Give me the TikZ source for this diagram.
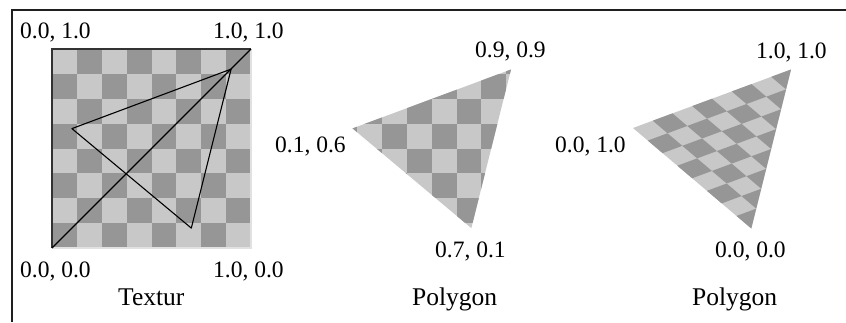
\documentclass[tikz,border=0pt]{standalone}
\usepackage{fontspec}
\setmainfont{Liberation Serif}
\definecolor{lightc}{RGB}{200,200,200}
\definecolor{darkc}{RGB}{150,150,150}
\definecolor{edgedark}{RGB}{50,50,50}
\definecolor{edgelight}{RGB}{225,225,225}
\newcommand\drawchecker{%
  \fill[lightc] (0,0) -- (8,0) -- (8,8) -- (0,8) -- cycle;
  \foreach \i in {0,...,7}{%
    \foreach \j in {0,...,7}{%
      \pgfmathtruncatemacro\kk{mod(\i+\j,2)}%
      \ifnum\kk=0
        \fill[darkc] (\i,\j) -- ++(1,0) -- ++(0,1) -- ++(-1,0) -- cycle;
      \fi
    }%
  }%
}
\tikzset{
  numlabel/.style={anchor=base west, inner sep=0pt, font=\fontsize{23.5}{28}\selectfont},
  wordlabel/.style={anchor=base west, inner sep=0pt, font=\fontsize{25.5}{30}\selectfont},
  texline/.style={black, line width=1.1pt, line join=round},
  framestyle/.style={black!88, line width=2pt}
}
\begin{document}
\begin{tikzpicture}[x=1pt, y=-1pt]
\useasboundingbox (0,0) rectangle (846,322);
\fill[white] (0,0) rectangle (846,322);

% frame (top and left)
\coordinate (fBL) at (12,322);
\coordinate (fTL) at (12,10);
\coordinate (fTR) at (846,10);
\draw[framestyle] (fBL) -- (fTL) -- (fTR);

% ---------- texture square ----------
\begin{scope}[shift={(52,248)}, x={(24.875pt,0pt)}, y={(0pt,24.875pt)}]
  \drawchecker
\end{scope}
\coordinate (sq00) at (52,248);
\coordinate (sq10) at (251,248);
\coordinate (sq11) at (251,49);
\coordinate (sq01) at (52,49);
\draw[edgelight, line width=1.5pt] (sq00) -- (sq10) -- (sq11);
\draw[edgedark, line width=2pt] (sq00) -- (sq01) -- (sq11);

\coordinate (tA) at (71.9,128.6);
\coordinate (tB) at (231.1,69.1);
\coordinate (tC) at (191.3,228.1);
\draw[texline] (tA) -- (tB) -- (tC) -- cycle;
\draw[texline] (sq00) -- (sq11);

\node[numlabel] (l01) at (20,38) {0.0, 1.0};
\node[numlabel] (l11) at (213,38) {1.0, 1.0};
\node[numlabel] (l00) at (20,277) {0.0, 0.0};
\node[numlabel] (l10) at (213,277) {1.0, 0.0};
\node[wordlabel] (textur) at (118,305) {Textur};

% ---------- middle polygon ----------
\coordinate (mA) at (352.5,128.4);
\coordinate (mB) at (511,69.5);
\coordinate (mC) at (471.3,228.1);
\begin{scope}
  \clip (mA) -- (mB) -- (mC) -- cycle;
  \begin{scope}[shift={(332.2,248.1)}, x={(24.875pt,0pt)}, y={(0pt,24.875pt)}]
    \drawchecker
  \end{scope}
\end{scope}
\node[numlabel] (m99) at (475,57) {0.9, 0.9};
\node[numlabel] (m16) at (275,152) {0.1, 0.6};
\node[numlabel] (m71) at (435,257) {0.7, 0.1};
\node[wordlabel] (poly1) at (412,305) {Polygon};

% ---------- right polygon ----------
\coordinate (rA) at (633,128);
\coordinate (rB) at (791,69.5);
\coordinate (rC) at (751.3,228.5);
\begin{scope}
  \clip (rA) -- (rB) -- (rC) -- cycle;
  \begin{scope}[shift={(751.3,228.5)}, x={(19.75pt,7.3125pt)}, y={(-14.7875pt,12.5625pt)}]
    \drawchecker
  \end{scope}
\end{scope}
\node[numlabel] (r11) at (756,58) {1.0, 1.0};
\node[numlabel] (r01) at (555,152) {0.0, 1.0};
\node[numlabel] (r00) at (715,257) {0.0, 0.0};
\node[wordlabel] (poly2) at (692,305) {Polygon};
\end{tikzpicture}
\end{document}
